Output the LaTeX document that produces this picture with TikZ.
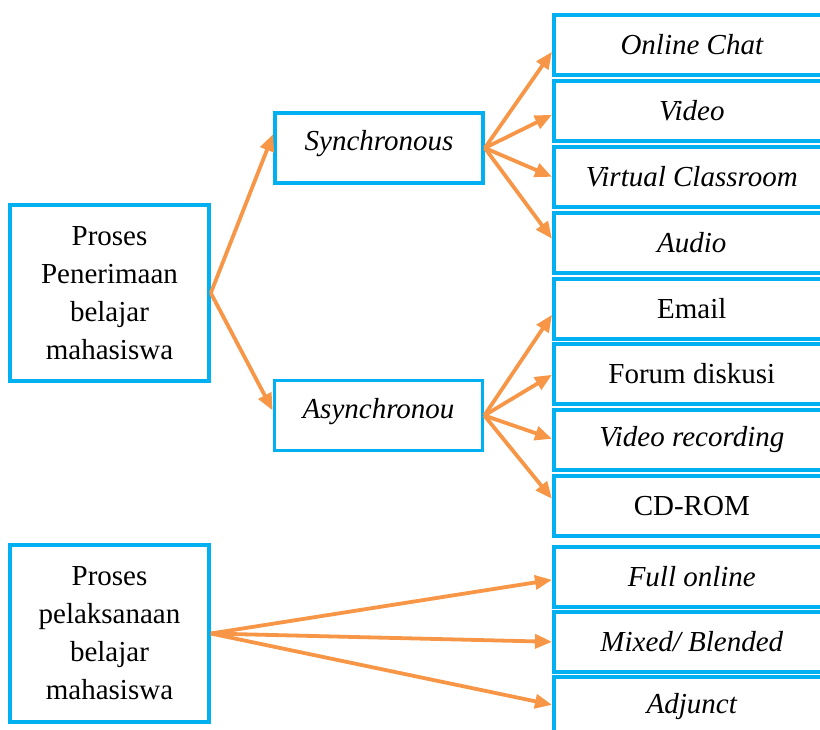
\documentclass[tikz,border=0pt]{standalone}
\usepackage{fontspec}
\setmainfont{Liberation Serif}
\usetikzlibrary{arrows.meta}
\definecolor{boxblue}{HTML}{00B0F0}
\definecolor{arroworange}{HTML}{F79646}
\newcommand{\uplabel}[1]{\raisebox{4pt}[\height][\depth]{#1}}
\begin{document}
\begin{tikzpicture}[x=1pt,y=-1pt,
  every node/.style={font=\fontsize{29}{38}\selectfont},
  frame/.style={draw=boxblue, line width=3.6pt, inner sep=0pt, align=center},
  leftbox/.style={frame, minimum width=199pt, text width=190pt},
  midbox/.style={frame, minimum width=208pt, minimum height=70pt},
  itembox/.style={frame, minimum width=276pt, minimum height=60pt, anchor=north west},
  link/.style={draw=arroworange, line width=3.8pt, -{Triangle[length=17pt,width=14pt]}}]
\useasboundingbox (0,0) rectangle (820,729);
\begin{scope}
\clip (0,0) rectangle (820,729);

% left-hand process boxes
\node[leftbox, minimum height=176pt] (terima) at (109.5,293)
  {Proses\\Penerimaan\\belajar\\mahasiswa};
\node[leftbox, minimum height=177pt] (laksana) at (109.5,633.5)
  {Proses\\pelaksanaan\\belajar\\mahasiswa};

% synchronous / asynchronous (label sits a little above centre)
\node[midbox] (sync) at (379,148) {\itshape\uplabel{Synchronous}};
\node[midbox] (async) at (378.5,415.5) {\itshape\uplabel{Asynchronou}};

% right-hand items
\node[itembox] (chat)    at (552,13)  {\itshape Online Chat};
\node[itembox] (video)   at (552,79)  {\itshape Video};
\node[itembox] (virtual) at (552,145) {\itshape Virtual Classroom};
\node[itembox] (audio)   at (552,211) {\itshape Audio};
\node[itembox] (email)   at (552,277) {Email};
\node[itembox] (forum)   at (552,342) {Forum diskusi};
\node[itembox] (vrec)    at (552,408) {\itshape Video recording};
\node[itembox] (cdrom)   at (552,474) {CD-ROM};
\node[itembox] (full)    at (552,545) {\itshape Full online};
\node[itembox] (mixed)   at (552,610) {\itshape Mixed/ Blended};
\node[itembox] (adjunct) at (552,675) {\itshape Adjunct};

% connectors
\draw[link] (terima.east) -- ([yshift=14pt]sync.west);
\draw[link] (terima.east) -- ([yshift=5pt]async.west);

\draw[link] (sync.east) -- ([yshift=-7pt]chat.west);
\draw[link] (sync.east) -- ([yshift=-4pt]video.west);
\draw[link] (sync.east) -- (virtual.west);
\draw[link] (sync.east) -- ([yshift=4pt]audio.west);

\draw[link] (async.east) -- ([yshift=-6pt]email.west);
\draw[link] (async.east) -- ([yshift=-1pt]forum.west);
\draw[link] (async.east) -- ([yshift=1pt]vrec.west);
\draw[link] (async.east) -- ([yshift=7pt]cdrom.west);

\draw[link] (laksana.east) -- ([yshift=-3pt]full.west);
\draw[link] (laksana.east) -- (mixed.west);
\draw[link] (laksana.east) -- ([yshift=2pt]adjunct.west);
\end{scope}
\end{tikzpicture}
\end{document}
